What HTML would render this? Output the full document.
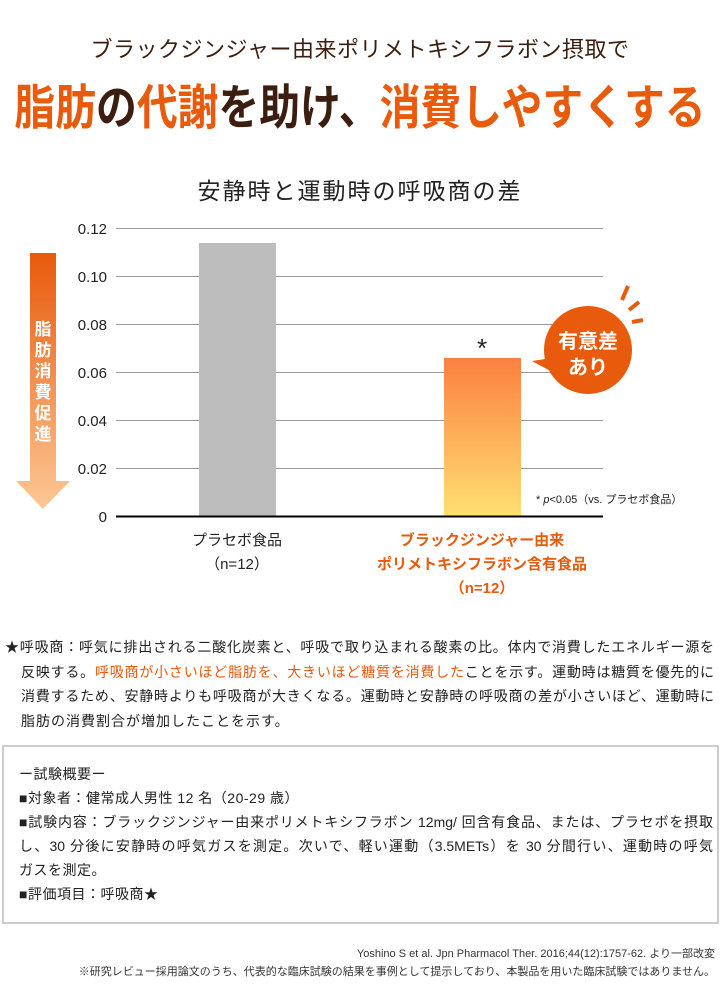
<!DOCTYPE html>
<html><head><meta charset="utf-8"><style>
body{margin:0;width:720px;height:1000px;background:#fff;position:relative;font-family:"Liberation Sans","Noto Sans CJK JP",sans-serif;color:#222;overflow:hidden}
.a{position:absolute;white-space:nowrap}
.o{color:#e85a0c}
.j{text-align:justify;text-align-last:justify;white-space:nowrap}
</style></head><body>
<div class="a" style="left:0;width:720px;top:32px;text-align:center;font-size:22px;letter-spacing:0.5px;color:#3c1e10">ブラックジンジャー由来ポリメトキシフラボン摂取で</div>
<div class="a" style="left:360px;top:68px;font-size:48px;font-weight:bold;color:#3c1e10;transform:translateX(-50%) scaleX(0.85);letter-spacing:0">
<span class="o">脂肪</span>の<span class="o">代謝</span>を助け、<span class="o">消費しやすくする</span></div>
<div class="a" style="left:0;width:720px;top:172px;text-align:center;font-size:23px;letter-spacing:2px;color:#222">安静時と運動時の呼吸商の差</div>

<svg class="a" style="left:0;top:0" width="720" height="620">
<defs>
<linearGradient id="ar" x1="0" y1="0" x2="0" y2="1"><stop offset="0" stop-color="#e85a0c"/><stop offset="1" stop-color="#fdc896"/></linearGradient>
<linearGradient id="br" x1="0" y1="0" x2="0" y2="1"><stop offset="0" stop-color="#fb8040"/><stop offset="1" stop-color="#ffe072"/></linearGradient>
</defs>
<g stroke="#999" stroke-width="1">
<line x1="116" y1="228.5" x2="603" y2="228.5"/><line x1="116" y1="276.5" x2="603" y2="276.5"/>
<line x1="116" y1="324.5" x2="603" y2="324.5"/><line x1="116" y1="372.5" x2="603" y2="372.5"/>
<line x1="116" y1="420.5" x2="603" y2="420.5"/><line x1="116" y1="468.5" x2="603" y2="468.5"/>
</g>
<rect x="199" y="243" width="77" height="273" fill="#bdbdbd"/>
<rect x="444" y="358" width="77" height="158" fill="url(#br)"/>
<line x1="116" y1="516.5" x2="603" y2="516.5" stroke="#000" stroke-width="2"/>
<g font-size="15" fill="#222" text-anchor="end" font-family="Liberation Sans,sans-serif">
<text x="107" y="234">0.12</text><text x="107" y="282">0.10</text><text x="107" y="330">0.08</text>
<text x="107" y="378">0.06</text><text x="107" y="426">0.04</text><text x="107" y="474">0.02</text><text x="107" y="522">0</text></g>
<path d="M30 253H56V481H70L43 509L16 481H30Z" fill="url(#ar)"/>
<g font-size="17" font-weight="bold" fill="#fff" text-anchor="middle" font-family="Noto Sans CJK JP,sans-serif">
<text x="43" y="335">脂</text><text x="43" y="356">肪</text><text x="43" y="377">消</text><text x="43" y="398">費</text><text x="43" y="419">促</text><text x="43" y="440">進</text></g>
<text x="482" y="357" font-size="26" text-anchor="middle" fill="#222">*</text>
<circle cx="588" cy="350" r="44" fill="#e85a0c"/>
<path d="M552 358L532 361L556 374Z" fill="#e85a0c"/>
<g stroke="#e85a0c" stroke-width="4"><line x1="622" y1="300" x2="628" y2="286"/><line x1="629" y1="310" x2="639" y2="302"/><line x1="632" y1="322" x2="643" y2="320"/></g>
<g font-size="20" font-weight="bold" fill="#fff" text-anchor="middle" font-family="Noto Sans CJK JP,sans-serif">
<text x="588" y="348">有意差</text><text x="588" y="374">あり</text></g>
<text x="536" y="503" font-size="11" fill="#222" font-family="Liberation Sans,Noto Sans CJK JP,sans-serif">* <tspan font-style="italic">p</tspan>&lt;0.05（vs. プラセボ食品）</text>
<g font-size="15" text-anchor="middle" font-family="Liberation Sans,Noto Sans CJK JP,sans-serif">
<text x="237" y="545" fill="#222">プラセボ食品</text><text x="237" y="569" fill="#222">（n=12）</text>
<text x="482" y="545" fill="#e85a0c" font-weight="bold">ブラックジンジャー由来</text>
<text x="482" y="569" fill="#e85a0c" font-weight="bold">ポリメトキシフラボン含有食品</text>
<text x="482" y="593" fill="#e85a0c" font-weight="bold">（n=12）</text></g>
</svg>

<div class="a" style="left:5px;top:635px;font-size:14px;line-height:24.5px">
<div class="j" style="width:709px">★呼吸商：呼気に排出される二酸化炭素と、呼吸で取り込まれる酸素の比。体内で消費したエネルギー源を</div>
<div class="j" style="width:693px;margin-left:16px">反映する。<span class="o">呼吸商が小さいほど脂肪を、大きいほど糖質を消費した</span>ことを示す。運動時は糖質を優先的に</div>
<div class="j" style="width:693px;margin-left:16px">消費するため、安静時よりも呼吸商が大きくなる。運動時と安静時の呼吸商の差が小さいほど、運動時に</div>
<div style="margin-left:16px;letter-spacing:1px">脂肪の消費割合が増加したことを示す。</div></div>

<div class="a" style="left:2px;top:745px;width:713px;height:175px;border:2px solid #ccc"></div>
<div class="a" style="left:19px;top:762px;font-size:14px;line-height:24px;color:#222">
<div style="letter-spacing:0.5px">ー試験概要ー</div>
<div style="letter-spacing:0.5px">■対象者：健常成人男性 12 名（20-29 歳）</div>
<div class="j" style="width:694px">■試験内容：ブラックジンジャー由来ポリメトキシフラボン 12mg/ 回含有食品、または、プラセボを摂取</div>
<div class="j" style="width:694px">し、30 分後に安静時の呼気ガスを測定。次いで、軽い運動（3.5METs）を 30 分間行い、運動時の呼気</div>
<div style="letter-spacing:0.5px">ガスを測定。</div>
<div style="letter-spacing:0.5px">■評価項目：呼吸商★</div></div>

<div class="a" style="right:5px;top:945px;font-size:11px;line-height:18px;text-align:right;color:#333">Yoshino S et al. Jpn Pharmacol Ther. 2016;44(12):1757-62. より一部改変<br>
※研究レビュー採用論文のうち、代表的な臨床試験の結果を事例として提示しており、本製品を用いた臨床試験ではありません。</div>
</body></html>
